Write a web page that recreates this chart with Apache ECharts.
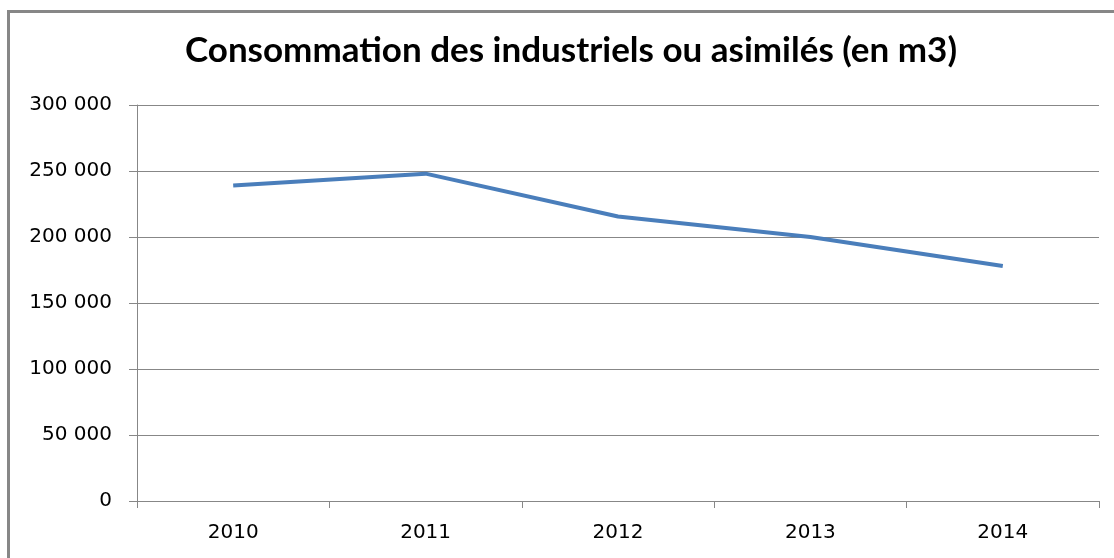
<!DOCTYPE html>
<html lang="fr">
<head>
    <meta charset="UTF-8">
    <script src="https://cdn.jsdelivr.net/npm/echarts@6.0.0/dist/echarts.min.js"></script>
    <title>Consommation des industriels</title>
    <style>
      html, body { margin: 0; padding: 0; background: #fff; }
    </style>
</head>
<body>
    <div id="main" style="width: 1114px;height:558px;"></div>
    <script type="text/javascript">
      var years = ['2010', '2011', '2012', '2013', '2014'];
      var consommation = [239000, 248000, 215500, 200000, 178000];
      var yTicks = [0, 50000, 100000, 150000, 200000, 250000, 300000];

      var myChart = echarts.init(document.getElementById('main'));

      // séparateur de milliers avec une espace
      function fmt(v) {
        return String(v).replace(/\B(?=(\d{3})+(?!\d))/g, ' ');
      }

      var option = {
        backgroundColor: '#fff',
        title: {
          text: 'Consommation des industriels ou asimilés (en m3)',
          left: 566,
          textAlign: 'center',
          top: 28,
          textStyle: { fontFamily: 'Lato', fontWeight: 'bold', fontSize: 35, color: '#000' }
        },
        graphic: [{
          type: 'rect',
          shape: { x: 8.5, y: 11.5, width: 1200, height: 700 },
          style: { fill: 'none', stroke: '#878787', lineWidth: 3 },
          silent: true
        }],
        grid: { left: 137, right: 15, top: 105, bottom: 57 },
        xAxis: {
          type: 'category',
          data: years,
          boundaryGap: true,
          axisLine: { lineStyle: { color: '#878787', width: 1 } },
          axisTick: { show: true, length: 7, lineStyle: { color: '#878787' } },
          axisLabel: { margin: 22, fontFamily: 'DejaVu Sans', fontSize: 20, color: '#000' }
        },
        yAxis: {
          type: 'value',
          min: yTicks[0],
          max: yTicks[yTicks.length - 1],
          interval: 50000,
          axisLine: { show: true, lineStyle: { color: '#878787', width: 1 } },
          axisTick: { show: true, length: 8, lineStyle: { color: '#878787' } },
          splitLine: { lineStyle: { color: '#878787', width: 1 } },
          axisLabel: { margin: 25, fontFamily: 'DejaVu Sans', fontSize: 20, color: '#000', formatter: fmt, padding: [4, 0, 0, 0] }
        },
        series: [{
          name: 'Consommation',
          type: 'line',
          data: consommation,
          symbol: 'none',
          lineStyle: { color: '#4A7EBB', width: 4 }
        }]
      };

      myChart.setOption(option);
    </script>
</body>
</html>
